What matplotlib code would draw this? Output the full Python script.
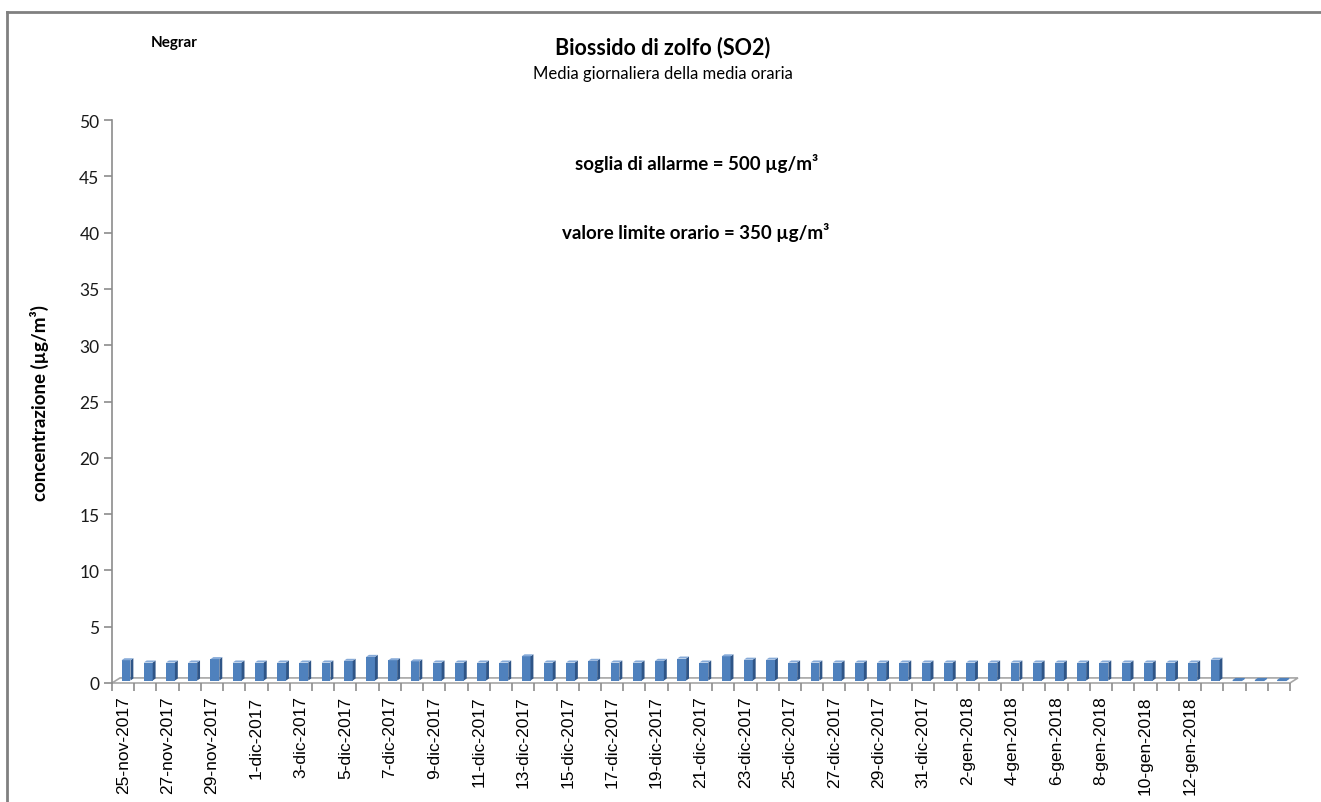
import numpy as np
import matplotlib.pyplot as plt
from matplotlib.patches import Polygon
from matplotlib.lines import Line2D

# daily SO2 means (ug/m3), 25-nov-2017 .. 13-gen-2018 + 3 empty days
dates = (
    [f"{d}-nov-2017" for d in range(25, 31)]
    + [f"{d}-dic-2017" for d in range(1, 32)]
    + [f"{d}-gen-2018" for d in range(1, 14)]
    + ["", "", ""]
)
values = [
    1.8, 1.6, 1.6, 1.6, 1.9, 1.6, 1.6, 1.6, 1.6, 1.6,
    1.75, 2.1, 1.8, 1.7, 1.6, 1.6, 1.6, 1.6, 2.15, 1.6,
    1.6, 1.75, 1.6, 1.6, 1.75, 1.95, 1.6, 2.15, 1.85, 1.85,
    1.6, 1.6, 1.6, 1.6, 1.6, 1.6, 1.6, 1.6, 1.6, 1.6,
    1.6, 1.6, 1.6, 1.6, 1.6, 1.6, 1.6, 1.6, 1.6, 1.85,
    0, 0, 0,
]
yticks = [0, 5, 10, 15, 20, 25, 30, 35, 40, 45, 50]

front = "#4F81BD"
side = "#2F5587"
top = "#86AAD8"
gray = "#8C8C8C"

fig = plt.figure(figsize=(13.21, 8.03), dpi=100)
ax = fig.add_axes([0.0848, 0.1482, 0.8917, 0.7011])

n = len(values)
x = np.arange(n)
w = 0.40       # front face width (categories)
dx, dy = 0.13, 0.18   # depth of the 3d look
fdx, fdy = 0.36, 0.45  # floor depth
xs = 0.13      # bar shift towards the back
base = 0.22

ax.set_xlim(-0.5, n - 0.5)
ax.set_ylim(0, 50)

# floor
floor = Polygon([(-0.5, 0), (n - 0.5, 0), (n - 0.5 + fdx, fdy), (-0.5 + fdx, fdy)],
                closed=True, facecolor="white", edgecolor="#A6A6A6", lw=1.2,
                clip_on=False, zorder=1)
ax.add_patch(floor)

for xi, v in zip(x, values):
    x0 = xi - w / 2 + xs
    ax.bar(x0, v, width=w, bottom=base, align="edge", color=front,
           edgecolor="none", zorder=3)
    ax.add_patch(Polygon([(x0 + w, base), (x0 + w + dx, base + dy),
                          (x0 + w + dx, base + v + dy), (x0 + w, base + v)],
                         closed=True, facecolor=side, edgecolor="none", zorder=3))
    tc = top if v > 0 else front
    ax.add_patch(Polygon([(x0, base + v), (x0 + w, base + v),
                          (x0 + w + dx, base + v + dy), (x0 + dx, base + v + dy)],
                         closed=True, facecolor=tc, edgecolor=tc, lw=0.8 if v == 0 else 0,
                         zorder=4))

for s in ["top", "right", "bottom"]:
    ax.spines[s].set_visible(False)
ax.spines["left"].set_color(gray)
ax.spines["left"].set_linewidth(1.2)

ax.set_yticks(yticks)
ax.tick_params(axis="y", length=6, width=1.2, color=gray, pad=3,
               labelsize=12.5, labelcolor="#1a1a1a")
for t in ax.get_yticklabels():
    t.set_fontfamily("Lato")

ax.set_xticks(x[::2])
ax.set_xticklabels(dates[::2], rotation=90, fontsize=12.5,
                   fontfamily="Liberation Sans", va="top", ha="center")
ax.set_xticks(np.arange(n + 1) - 0.5, minor=True)
ax.tick_params(axis="x", which="major", length=0, pad=9)
ax.tick_params(axis="x", which="minor", length=6, width=1.2, color=gray)

ax.set_ylabel("concentrazione (µg/m³)", fontsize=13.5, fontweight="bold",
              fontfamily="Lato", labelpad=22)

fig.text(0.114, 0.946, "Negrar", fontsize=11, fontweight="bold",
         fontfamily="Lato", ha="left", va="center")
fig.text(0.5015, 0.941, "Biossido di zolfo (SO2)", fontsize=15.5,
         fontweight="bold", fontfamily="Lato", ha="center", va="center")
fig.text(0.5015, 0.908, "Media giornaliera della media oraria", fontsize=12,
         fontfamily="Lato", ha="center", va="center")
fig.text(0.527, 0.796, "soglia di allarme = 500 µg/m³", fontsize=13.5,
         fontweight="bold", fontfamily="Lato", ha="center", va="center")
fig.text(0.527, 0.710, "valore limite orario = 350 µg/m³", fontsize=13.5,
         fontweight="bold", fontfamily="Lato", ha="center", va="center")

# chart area border (top and left visible)
fig.add_artist(Line2D([0.0053, 1.0], [0.9838, 0.9838], color="#808080", lw=2))
fig.add_artist(Line2D([0.0053, 0.0053], [0.0, 0.9838], color="#808080", lw=2))

fig.savefig("out.png", dpi=100)
